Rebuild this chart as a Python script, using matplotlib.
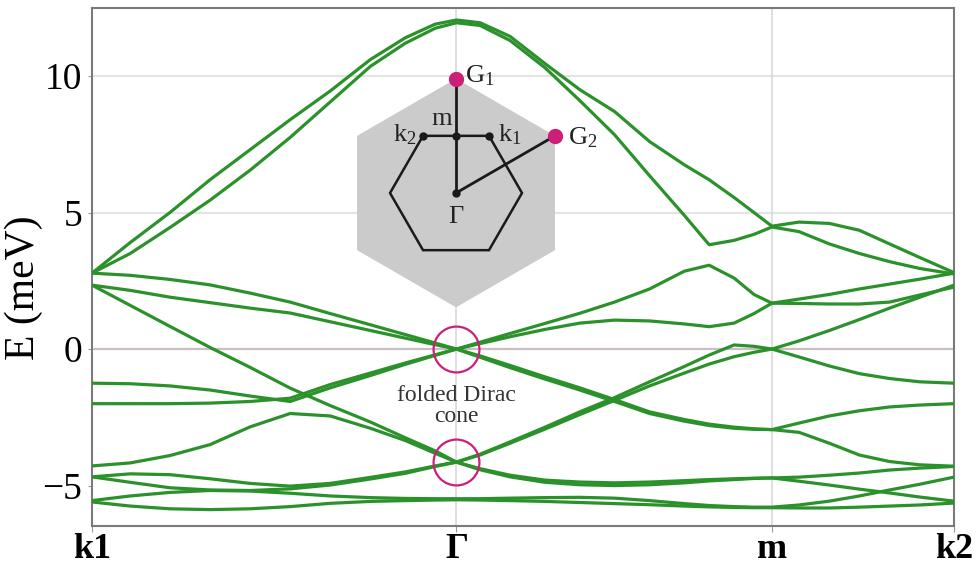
import numpy as np
import matplotlib.pyplot as plt
from matplotlib.patches import RegularPolygon

plt.rcParams['font.family'] = ['Liberation Serif', 'DejaVu Serif']
plt.rcParams['mathtext.fontset'] = 'custom'
plt.rcParams['mathtext.rm'] = 'Liberation Serif'
plt.rcParams['mathtext.it'] = 'Liberation Serif:italic'

# path k1 -> Gamma -> m -> k2 (path length, |Gamma m| = 1)
k = [0.0, 0.121, 0.247, 0.374, 0.501, 0.628, 0.755, 0.882, 0.993, 1.088, 1.155,
     1.230, 1.325, 1.436, 1.546, 1.656, 1.767, 1.877, 1.956, 2.035, 2.098, 2.155,
     2.241, 2.337, 2.432, 2.528, 2.624, 2.732]
k_ticks = [0.0, 1.155, 2.155, 2.732]
k_labels = ['k1', 'Γ', 'm', 'k2']
y_ticks = [-5, 0, 5, 10]

# energies (meV)
band_01 = [2.78, 3.9, 5.0, 6.2, 7.3, 8.4, 9.45, 10.6, 11.4, 11.9, 12.05,
           11.95, 11.45, 10.45, 9.5, 8.7, 7.6, 6.75, 6.2, 5.55, 5.0, 4.5,
           4.65, 4.6, 4.35, 3.85, 3.35, 2.8]
band_02 = [2.78, 3.5, 4.45, 5.45, 6.55, 7.75, 9.05, 10.35, 11.2, 11.75, 11.95,
           11.85, 11.3, 10.3, 9.1, 7.85, 6.35, 4.9, 3.82, 3.98, 4.2, 4.47,
           4.3, 3.85, 3.5, 3.2, 2.95, 2.75]
band_03 = [2.78, 2.7, 2.55, 2.35, 2.05, 1.72, 1.3, 0.89, 0.53, 0.22, 0.0,
           -0.25, -0.6, -1.02, -1.42, -1.85, -2.3, -2.58, -2.75, -2.86, -2.92, -2.95,
           -2.71, -2.45, -2.26, -2.12, -2.05, -2.0]
band_04 = [2.34, 2.15, 1.9, 1.7, 1.5, 1.32, 1.0, 0.68, 0.4, 0.16, 0.0,
           -0.3, -0.68, -1.1, -1.5, -1.92, -2.36, -2.64, -2.8, -2.9, -2.94, -2.95,
           -3.05, -3.45, -3.88, -4.12, -4.24, -4.29]
band_05 = [-1.25, -1.27, -1.35, -1.5, -1.72, -1.92, -1.42, -0.97, -0.56, -0.23, 0.0,
           0.25, 0.57, 0.94, 1.31, 1.72, 2.2, 2.85, 3.07, 2.6, 2.0, 1.68,
           1.83, 2.0, 2.2, 2.38, 2.56, 2.78]
band_06 = [-2.0, -2.0, -2.0, -1.98, -1.92, -1.8, -1.3, -0.88, -0.51, -0.21, 0.0,
           0.2, 0.45, 0.72, 0.95, 1.06, 1.03, 0.92, 0.82, 0.95, 1.3, 1.68,
           1.67, 1.65, 1.65, 1.72, 1.98, 2.27]
band_07 = [2.34, 1.6, 0.83, 0.06, -0.67, -1.43, -2.07, -2.67, -3.25, -3.73, -4.14,
           -4.38, -4.62, -4.8, -4.87, -4.9, -4.87, -4.82, -4.78, -4.75, -4.73, -4.72,
           -4.69, -4.62, -4.54, -4.43, -4.36, -4.3]
band_08 = [-4.28, -4.17, -3.9, -3.5, -2.85, -2.36, -2.45, -2.9, -3.35, -3.82, -4.14,
           -4.42, -4.68, -4.88, -4.97, -5.0, -4.97, -4.9, -4.83, -4.78, -4.74, -4.72,
           -4.84, -4.98, -5.13, -5.27, -5.42, -5.57]
band_09 = [-4.68, -4.57, -4.6, -4.75, -4.92, -5.02, -4.92, -4.7, -4.5, -4.28, -4.14,
           -3.85, -3.4, -2.86, -2.3, -1.78, -1.2, -0.64, -0.22, 0.15, 0.1, 0.0,
           0.3, 0.68, 1.08, 1.5, 1.9, 2.34]
band_10 = [-4.68, -4.88, -5.08, -5.16, -5.18, -5.12, -4.98, -4.76, -4.55, -4.3, -4.14,
           -3.88, -3.45, -2.93, -2.4, -1.88, -1.35, -0.88, -0.55, -0.28, -0.12, 0.0,
           -0.29, -0.62, -0.9, -1.08, -1.2, -1.25]
band_11 = [-5.55, -5.38, -5.25, -5.18, -5.2, -5.28, -5.38, -5.44, -5.47, -5.48, -5.48,
           -5.48, -5.46, -5.44, -5.43, -5.46, -5.55, -5.66, -5.73, -5.77, -5.79, -5.79,
           -5.71, -5.57, -5.38, -5.16, -4.95, -4.69]
band_12 = [-5.6, -5.75, -5.85, -5.88, -5.85, -5.77, -5.65, -5.58, -5.55, -5.53, -5.52,
           -5.53, -5.55, -5.58, -5.62, -5.66, -5.7, -5.75, -5.78, -5.8, -5.81, -5.81,
           -5.82, -5.82, -5.79, -5.75, -5.71, -5.64]
bands = [band_01, band_02, band_03, band_04, band_05, band_06,
         band_07, band_08, band_09, band_10, band_11, band_12]

# folded Dirac cones at Gamma
cone_E = [0.0, -4.14]

green = '#2b922b'
magenta = '#cc1f78'

fig = plt.figure(figsize=(9.79, 5.69), dpi=100)
ax = fig.add_axes([92/979, 1-526/569, (954-92)/979, (526-8)/569])

for y in [5, 10]:
    ax.axhline(y, color='#e4e4e4', lw=1.6, zorder=0)
ax.axhline(0, color='#cbbfc3', lw=1.6, zorder=0)
for x in k_ticks[1:3]:
    ax.axvline(x, color='#d6d6d6', lw=1.1, zorder=0)

for b in bands:
    ax.plot(k, b, color=green, lw=2.3, solid_capstyle='round', zorder=3)

ax.plot([k_ticks[1]]*2, cone_E, 'o', ms=33, mfc='none', mec=magenta, mew=1.6, zorder=4)
ax.text(k_ticks[1], -2.08, 'folded Dirac\ncone', ha='center', va='center',
        fontsize=17, color='#333333', linespacing=1.0, zorder=5)

ax.set_xlim(k_ticks[0], k_ticks[-1])
ax.set_ylim(-6.48, 12.49)
ax.set_xticks(k_ticks)
ax.set_xticklabels(k_labels, fontsize=26, fontweight='bold')
ax.set_yticks(y_ticks)
ax.tick_params(axis='y', labelsize=27, length=3, color='#999999', pad=4)
ax.tick_params(axis='x', length=4, color='#999999', pad=1)
ax.set_ylabel('E (meV)', fontsize=30)
ax.yaxis.set_label_coords(-0.057, 0.46)
for s in ax.spines.values():
    s.set_color('#7a7a7a')
    s.set_linewidth(1.5)

# Brillouin zone inset (units: inner hexagon circumradius)
ins = fig.add_axes([340/979, 1-320/569, 280/979, 260/569])
ins.set_xlim(-1.758, 2.485)
ins.set_ylim(-1.924, 2.015)
ins.axis('off')
r3 = np.sqrt(3)
ins.add_patch(RegularPolygon((0, 0), 6, radius=r3, orientation=0,
                             facecolor='#cbcbcb', edgecolor='none'))
ins.add_patch(RegularPolygon((0, 0), 6, radius=1.0, orientation=np.pi/6,
                             facecolor='none', edgecolor='#1a1a1a', lw=1.8))
ins.plot([0, 0], [0, r3], color='#1a1a1a', lw=2)
ins.plot([0, 1.5], [0, r3/2], color='#1a1a1a', lw=2)
ins.plot([0, 0, 0.5, -0.5], [0, r3/2, r3/2, r3/2], 'o', color='#1a1a1a', ms=5)
ins.plot([0, 1.5], [r3, r3/2], 'o', color=magenta, ms=10)
lab = dict(fontsize=19, color='#222222')
ins.text(0.13, r3 + 0.04, 'G$_1$', ha='left', va='center', **lab)
ins.text(1.7, r3/2 - 0.03, 'G$_2$', ha='left', va='center', **lab)
ins.text(-0.22, 1.12, 'm', ha='center', va='center', **lab)
ins.text(-0.6, 0.88, 'k$_2$', ha='right', va='center', **lab)
ins.text(0.64, 0.88, 'k$_1$', ha='left', va='center', **lab)
ins.text(0, -0.36, 'Γ', ha='center', va='center', **lab)

fig.savefig('out.png', dpi=100)
